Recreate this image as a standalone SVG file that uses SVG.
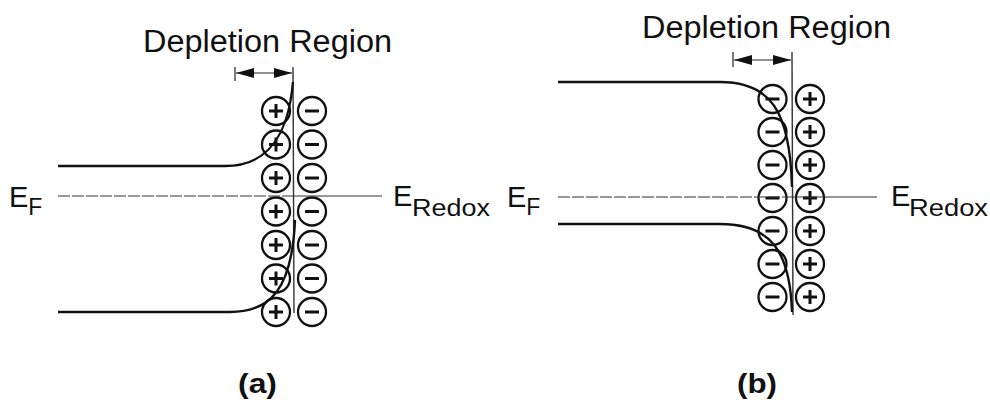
<svg xmlns="http://www.w3.org/2000/svg" xmlns:xlink="http://www.w3.org/1999/xlink" width="990" height="403" viewBox="0 0 990 403">
  <style>
    .lbl { font-family: "Liberation Sans", Arial, sans-serif; fill: #111; }
    .cap { font-family: "Liberation Sans", Arial, sans-serif; font-weight: bold; fill: #111; }
    .band { fill: none; stroke: #111; stroke-width: 2.4; }
    .surf { fill: none; stroke: #333; stroke-width: 1.4; }
    .ef-dash { fill: none; stroke: #333; stroke-width: 1.2; stroke-dasharray: 12 2; }
    .ef-solid { fill: none; stroke: #333; stroke-width: 1.2; }
    .dim { fill: none; stroke: #222; stroke-width: 1.2; }
    .ion circle { fill: none; stroke: #111; stroke-width: 2.3; }
    .ion path { fill: none; stroke: #111; stroke-width: 3; }
  </style>
  <defs>
    <marker id="ah" markerUnits="userSpaceOnUse" markerWidth="19" markerHeight="11" refX="18" refY="5.5" orient="auto-start-reverse">
      <path d="M0,0.5 L18,5.5 L0,10.5 Z" fill="#111"/>
    </marker>
    <g id="pos" class="ion"><circle r="14"/><path d="M-7,0 H7 M0,-7 V7"/></g>
    <g id="neg" class="ion"><circle r="14"/><path d="M-7,0 H7"/></g>
  </defs>
  <rect width="990" height="403" fill="#fff"/>

  <!-- Panel (a) -->
  <g id="panel-a">
    <text id="a-title" class="lbl" x="143" y="52" font-size="31" textLength="249" lengthAdjust="spacingAndGlyphs">Depletion Region</text>
    <g id="a-ef-label"><text class="lbl" x="9" y="207" font-size="29">E<tspan font-size="23" dy="8">F</tspan></text></g>
    <g id="a-redox-label"><text class="lbl" x="393" y="206" font-size="29">E</text><text class="lbl" x="412" y="216" font-size="23" textLength="78" lengthAdjust="spacingAndGlyphs">Redox</text></g>
    <text id="a-caption" class="cap" x="238" y="393" font-size="27" textLength="39" lengthAdjust="spacingAndGlyphs">(a)</text>
    <g id="a-ions">
      <use xlink:href="#pos" x="276" y="111"/><use xlink:href="#neg" x="312" y="111"/>
      <use xlink:href="#pos" x="276" y="144.5"/><use xlink:href="#neg" x="312" y="144.5"/>
      <use xlink:href="#pos" x="276" y="178"/><use xlink:href="#neg" x="312" y="178"/>
      <use xlink:href="#pos" x="276" y="211.5"/><use xlink:href="#neg" x="312" y="211.5"/>
      <use xlink:href="#pos" x="276" y="245"/><use xlink:href="#neg" x="312" y="245"/>
      <use xlink:href="#pos" x="276" y="278.5"/><use xlink:href="#neg" x="312" y="278.5"/>
      <use xlink:href="#pos" x="276" y="312"/><use xlink:href="#neg" x="312" y="312"/>
    </g>
  </g>

  <!-- Panel (b) -->
  <g id="panel-b">
    <text id="b-title" class="lbl" x="642" y="38" font-size="31" textLength="249" lengthAdjust="spacingAndGlyphs">Depletion Region</text>
    <g id="b-ef-label"><text class="lbl" x="507" y="207" font-size="29">E<tspan font-size="23" dy="8">F</tspan></text></g>
    <g id="b-redox-label"><text class="lbl" x="891" y="206" font-size="29">E</text><text class="lbl" x="909" y="216" font-size="23" textLength="79" lengthAdjust="spacingAndGlyphs">Redox</text></g>
    <text id="b-caption" class="cap" x="737" y="393" font-size="27" textLength="40" lengthAdjust="spacingAndGlyphs">(b)</text>
    <g id="b-ions">
      <use xlink:href="#neg" x="772.5" y="99"/><use xlink:href="#pos" x="810" y="99"/>
      <use xlink:href="#neg" x="772.5" y="132"/><use xlink:href="#pos" x="810" y="132"/>
      <use xlink:href="#neg" x="772.5" y="165"/><use xlink:href="#pos" x="810" y="165"/>
      <use xlink:href="#neg" x="772.5" y="198"/><use xlink:href="#pos" x="810" y="198"/>
      <use xlink:href="#neg" x="772.5" y="231"/><use xlink:href="#pos" x="810" y="231"/>
      <use xlink:href="#neg" x="772.5" y="264"/><use xlink:href="#pos" x="810" y="264"/>
      <use xlink:href="#neg" x="772.5" y="297"/><use xlink:href="#pos" x="810" y="297"/>
    </g>
  </g>

  <!-- Connectors / lines -->
  <g id="connectors">
    <!-- (a) -->
    <path class="ef-dash" d="M58,196 H293"/>
    <path class="ef-solid" d="M293,196 H382"/>
    <path class="surf" d="M293,67 L294,313"/>
    <path class="dim" d="M235,67 V81"/>
    <path class="dim" d="M236,73 H292" marker-start="url(#ah)" marker-end="url(#ah)"/>
    <path class="band" d="M58,166 H225 C265,166 288,140 293,82"/>
    <path class="band" d="M58,312 H230 C270,312 292,290 295,220"/>
    <!-- (b) -->
    <path class="ef-dash" d="M558,197 H792"/>
    <path class="ef-solid" d="M792,197 H877"/>
    <path class="surf" d="M792,52 L793,315"/>
    <path class="dim" d="M733,52 V67"/>
    <path class="dim" d="M734,60 H791" marker-start="url(#ah)" marker-end="url(#ah)"/>
    <path class="band" d="M558,82 H720 C770,82 790,110 792,187"/>
    <path class="band" d="M558,224 H720 C770,224 790,250 792,312"/>
  </g>
</svg>
